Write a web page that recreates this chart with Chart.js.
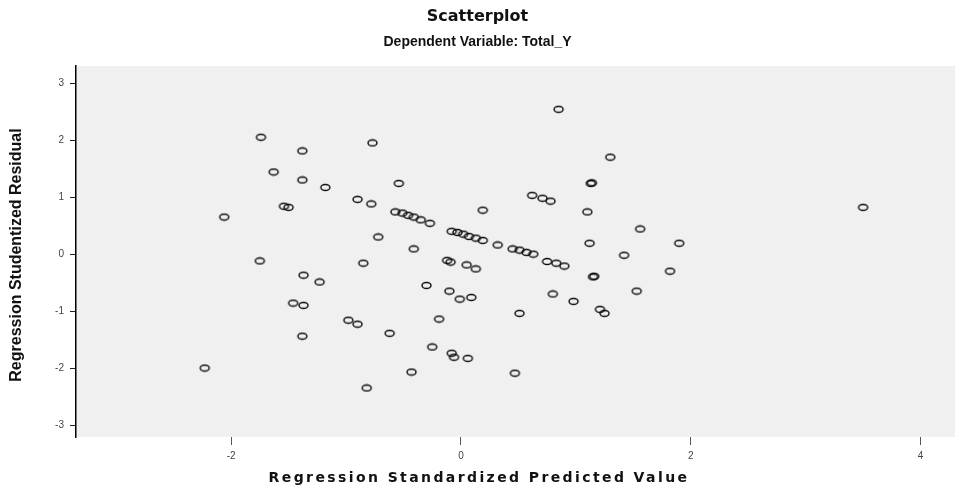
<!DOCTYPE html>
<html>
<head>
<meta charset="utf-8">
<script src="https://cdn.jsdelivr.net/npm/chart.js@4.4.1/dist/chart.umd.min.js"></script>
<style>
  html, body { margin: 0; padding: 0; background: #ffffff; }
  #wrap { width: 962px; height: 494px; }
</style>
</head>
<body>
<div id="wrap"><canvas id="c" width="962" height="494"></canvas></div>
<script>
const chartTitle = "Scatterplot";
const chartSubtitle = "Dependent Variable: Total_Y";
const xAxisTitle = "Regression Standardized Predicted Value";
const yAxisTitle = "Regression Studentized Residual";
const xTickValues = [-2, 0, 2, 4];
const yTickValues = [-3, -2, -1, 0, 1, 2, 3];

const predicted = [
  0.85, -1.74, -1.38, -0.77, 1.30, -1.63, -1.38, -1.18, -0.54, 1.13, 1.14,
  -2.06, -1.54, -1.50, -0.90, -0.78, 0.62, 0.71, 0.78, 1.10, 0.19,
  -0.57, -0.51, -0.46, -0.41, -0.35, -0.27,
  -0.08, -0.03, 0.02, 0.07, 0.13, 0.19,
  0.32, 0.45, 0.51, 0.57, 0.63, 0.75, 0.83, 0.90,
  -0.72, -0.41, 1.12, 1.56, 1.90, 1.42, 1.82, 1.15, 1.16,
  -1.75, -0.85, -1.37, -1.23, -0.12, -0.09, 0.05, 0.13,
  -0.30, -0.10, -0.01, 0.09, -1.46, -1.37, -0.98, -0.90, -0.62, -1.38, -0.19,
  0.80, 0.98, 1.53, 0.51, 1.21, 1.25,
  -0.25, -0.08, -0.06, 0.06, -2.23, -0.43, 0.47, -0.82, 3.50
];
const residual = [
  2.55, 2.06, 1.82, 1.96, 1.71, 1.45, 1.31, 1.18, 1.25, 1.25, 1.26,
  0.66, 0.85, 0.83, 0.97, 0.89, 1.04, 0.99, 0.94, 0.75, 0.78,
  0.75, 0.73, 0.69, 0.66, 0.61, 0.55,
  0.41, 0.39, 0.36, 0.32, 0.29, 0.25,
  0.17, 0.10, 0.08, 0.04, 0.01, -0.12, -0.15, -0.20,
  0.31, 0.10, 0.20, 0.45, 0.20, -0.01, -0.29, -0.39, -0.38,
  -0.11, -0.15, -0.36, -0.48, -0.10, -0.13, -0.18, -0.25,
  -0.54, -0.64, -0.78, -0.75, -0.85, -0.89, -1.15, -1.22, -1.38, -1.43, -1.13,
  -0.69, -0.82, -0.64, -1.03, -0.96, -1.03,
  -1.62, -1.73, -1.80, -1.82, -1.99, -2.06, -2.08, -2.34, 0.83
];

const points = predicted.map((x, i) => ({ x: x, y: residual[i] }));

// elliptical open marker
const marker = document.createElement('canvas');
marker.width = 13; marker.height = 9;
(function () {
  const g = marker.getContext('2d');
  g.strokeStyle = '#0a0a0a';
  g.lineWidth = 1.4;
  g.beginPath();
  g.ellipse(6.5, 4.5, 4.5, 3.0, 0, 0, Math.PI * 2);
  g.stroke();
})();

const plotBg = {
  id: 'plotBg',
  beforeDraw(chart) {
    const { ctx, chartArea: a } = chart;
    ctx.save();
    ctx.fillStyle = '#ffffff';
    ctx.fillRect(0, 0, chart.width, chart.height);
    ctx.fillStyle = '#f0f0f0';
    ctx.fillRect(a.left, a.top, a.right - a.left, a.bottom - a.top);
    ctx.restore();
  }
};

const axisTitles = {
  id: 'axisTitles',
  afterDraw(chart) {
    const { ctx } = chart;
    ctx.save();
    ctx.fillStyle = '#111111';
    ctx.textAlign = 'center';
    ctx.textBaseline = 'middle';
    ctx.font = 'bold 14px "DejaVu Sans"';
    if ('letterSpacing' in ctx) ctx.letterSpacing = '2.4px';
    ctx.fillText(xAxisTitle, 479, 478);
    if ('letterSpacing' in ctx) ctx.letterSpacing = '0px';
    ctx.translate(17, 255);
    ctx.rotate(-Math.PI / 2);
    ctx.font = 'bold 16px "Liberation Sans"';
    ctx.fillText(yAxisTitle, 0, 0);
    ctx.restore();
  }
};

new Chart(document.getElementById('c'), {
  type: 'scatter',
  data: {
    datasets: [{
      data: points,
      pointStyle: marker,
      pointRadius: 5,
      pointHoverRadius: 5
    }]
  },
  plugins: [plotBg, axisTitles],
  options: {
    responsive: false,
    animation: false,
    devicePixelRatio: 1,
    layout: { padding: { left: 0, right: 7, top: 0, bottom: 0 } },
    plugins: {
      legend: { display: false },
      tooltip: { enabled: false },
      title: {
        display: true,
        text: chartTitle,
        color: '#111111',
        font: { family: '"DejaVu Sans"', size: 16, weight: 'bold', lineHeight: 1.2 },
        padding: { top: 7, bottom: 8 }
      },
      subtitle: {
        display: true,
        text: chartSubtitle,
        color: '#111111',
        font: { family: '"Liberation Sans"', size: 14, weight: 'bold', lineHeight: 1.2 },
        padding: { top: 0, bottom: 15 }
      }
    },
    scales: {
      x: {
        type: 'linear',
        min: -3.35,
        max: 4.30,
        afterFit(scale) { scale.height = 57; },
        afterBuildTicks(scale) { scale.ticks = xTickValues.map(v => ({ value: v })); },
        border: { display: false },
        grid: { drawOnChartArea: false, drawTicks: true, tickLength: 8, tickColor: '#555555', tickWidth: 1 },
        ticks: {
          color: '#444444',
          padding: 5,
          font: { family: '"Liberation Sans"', size: 10 },
          callback: v => String(v)
        }
      },
      y: {
        type: 'linear',
        min: -3.20,
        max: 3.31,
        afterFit(scale) { scale.width = 76; },
        afterBuildTicks(scale) { scale.ticks = yTickValues.map(v => ({ value: v })); },
        border: { display: true, color: '#000000', width: 1.5 },
        grid: { drawOnChartArea: false, drawTicks: true, tickLength: 6, tickColor: '#222222', tickWidth: 1 },
        ticks: {
          color: '#444444',
          padding: 6,
          font: { family: '"Liberation Sans"', size: 10 },
          callback: v => String(v)
        }
      }
    }
  }
});
</script>
</body>
</html>
